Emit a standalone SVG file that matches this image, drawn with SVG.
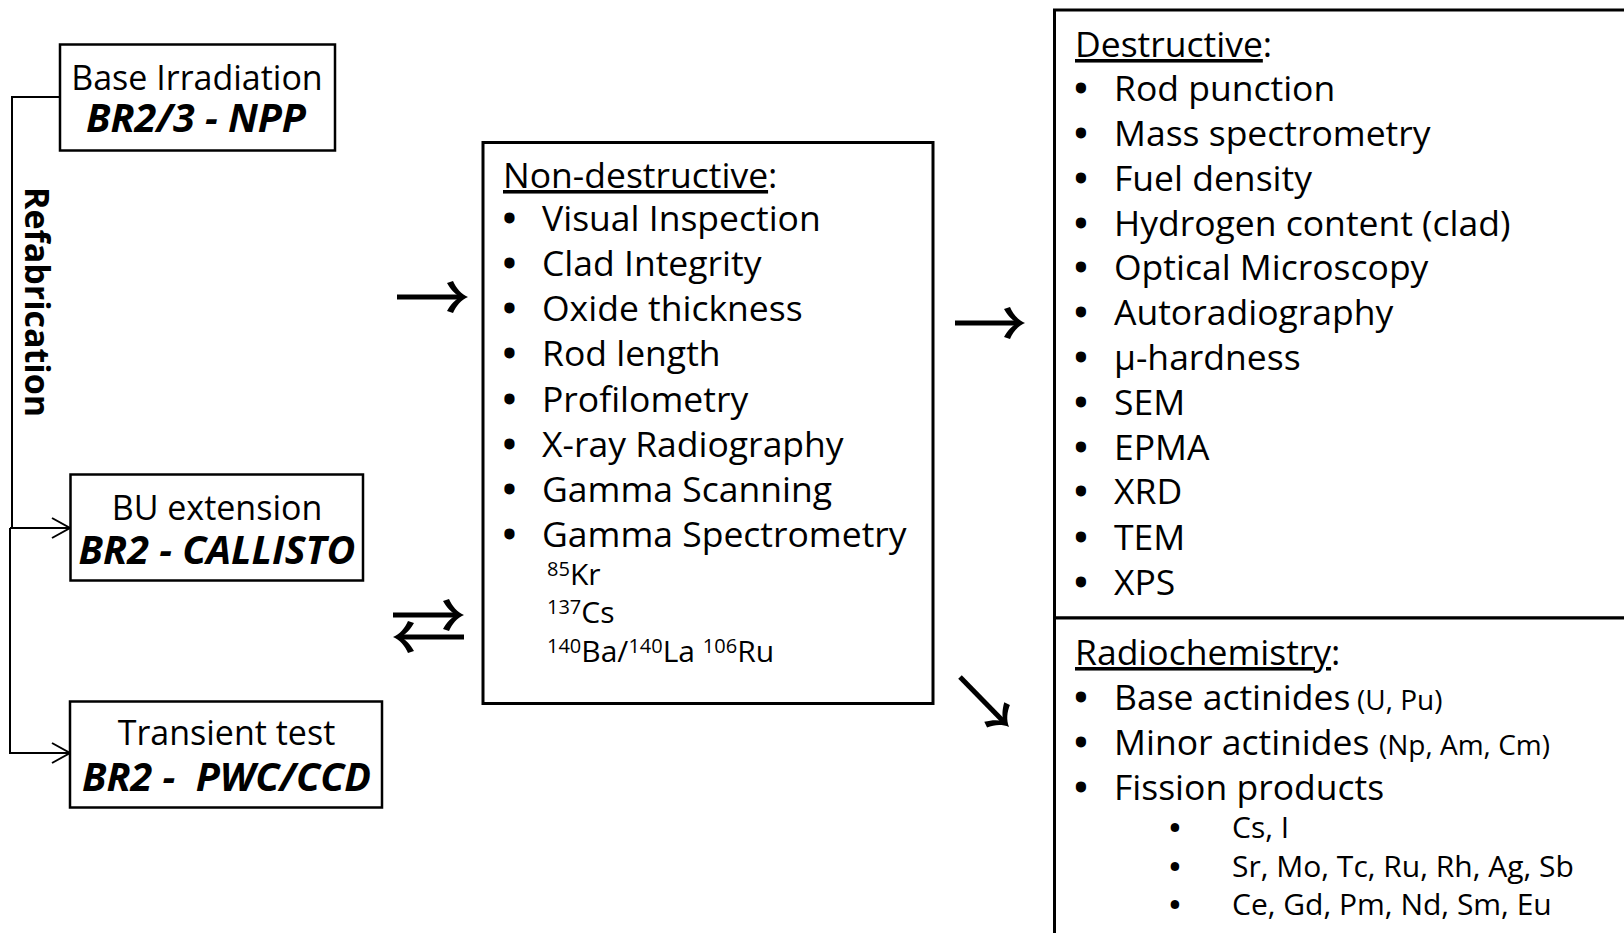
<svg xmlns="http://www.w3.org/2000/svg" xmlns:xlink="http://www.w3.org/1999/xlink" width="1624" height="933" viewBox="0 0 1624 933">
<style>
text{font-family:"Open Sans","Noto Sans","DejaVu Sans",sans-serif;fill:#000}
.box{fill:#fff;stroke:#000;stroke-width:2.5}
.bigbox{fill:#fff;stroke:#000;stroke-width:3}
.t34{font-size:34px}
.bi{font-size:39.5px;font-weight:bold;font-style:italic}
.m{font-size:35.5px}
.b{text-anchor:middle;stroke:#000;stroke-width:2.8;stroke-linejoin:round}
.bs{text-anchor:middle;stroke:#000;stroke-width:2.2;stroke-linejoin:round}
.sm{font-size:30px}
.sup{font-size:20px}
.sub{font-size:30px}
.par{font-size:28px}
.u{text-decoration:underline}
.thin{fill:none;stroke:#000;stroke-width:2}
.shaft{fill:none;stroke:#000;stroke-width:5}
.mid{text-anchor:middle}
</style>
<defs>
<path id="ah" d="M0,0 C-7,-3 -12,-9 -15,-16 L-21,-14 C-17,-7 -13,-3 -8,0 C-13,3 -17,7 -21,14 L-15,16 C-12,9 -7,3 0,0 Z" fill="#000"/>
<path id="oh" d="M-18,-10 L0,0 L-18,10" fill="none" stroke="#000" stroke-width="2"/>
</defs>

<g id="connectors">
<path class="thin" d="M60,97 H12 V528"/>
<path class="thin" d="M10,528 H69"/>
<path class="thin" d="M10,528 V753 H69"/>
<use xlink:href="#oh" transform="translate(70,528)"/>
<use xlink:href="#oh" transform="translate(70,753)"/>
<text class="mid" transform="translate(25,302) rotate(90)" style="font-size:34px;font-weight:bold">Refabrication</text>

<line class="shaft" x1="397" y1="297" x2="461" y2="297"/>
<use xlink:href="#ah" transform="translate(468,297)"/>

<line class="shaft" x1="393" y1="615" x2="457" y2="615"/>
<use xlink:href="#ah" transform="translate(464,615)"/>
<line class="shaft" x1="400" y1="637" x2="464" y2="637"/>
<use xlink:href="#ah" transform="translate(393,637) rotate(180)"/>

<line class="shaft" x1="955" y1="323" x2="1018" y2="323"/>
<use xlink:href="#ah" transform="translate(1025,323)"/>

<line class="shaft" x1="960" y1="677" x2="1004" y2="722"/>
<use xlink:href="#ah" transform="translate(1009,727) rotate(45.5)"/>
</g>

<g id="base-irradiation">
<rect class="box" x="60" y="44.5" width="275" height="106"/>
<text class="mid"><tspan class="t34" x="197" y="90">Base Irradiation</tspan><tspan class="bi" x="196" y="132">BR2/3 - NPP</tspan></text>
</g>

<g id="bu-extension">
<rect class="box" x="70.5" y="474.5" width="292.5" height="106"/>
<text class="mid"><tspan class="t34" x="217" y="520">BU extension</tspan><tspan class="bi" x="217" y="564">BR2 - CALLISTO</tspan></text>
</g>

<g id="transient-test">
<rect class="box" x="70" y="701.5" width="312" height="106"/>
<text class="mid" xml:space="preserve"><tspan class="t34" x="226.5" y="745">Transient test</tspan><tspan class="bi" x="226.5" y="791">BR2 -  PWC/CCD</tspan></text>
</g>

<g id="non-destructive">
<rect class="bigbox" x="483" y="142.5" width="450" height="561"/>
<text class="m" x="503" y="188"><tspan class="u">Non-destructive</tspan>:</text>
<text class="m" y="231"><tspan class="b" x="509.5">•</tspan><tspan x="542">Visual Inspection</tspan></text>
<text class="m" y="276"><tspan class="b" x="509.5">•</tspan><tspan x="542">Clad Integrity</tspan></text>
<text class="m" y="321"><tspan class="b" x="509.5">•</tspan><tspan x="542">Oxide thickness</tspan></text>
<text class="m" y="366"><tspan class="b" x="509.5">•</tspan><tspan x="542">Rod length</tspan></text>
<text class="m" y="412"><tspan class="b" x="509.5">•</tspan><tspan x="542">Profilometry</tspan></text>
<text class="m" y="457"><tspan class="b" x="509.5">•</tspan><tspan x="542">X-ray Radiography</tspan></text>
<text class="m" y="502"><tspan class="b" x="509.5">•</tspan><tspan x="542">Gamma Scanning</tspan></text>
<text class="m" y="547"><tspan class="b" x="509.5">•</tspan><tspan x="542">Gamma Spectrometry</tspan></text>
<text class="sm"><tspan class="sup" x="547" y="576">85</tspan><tspan y="585">Kr</tspan><tspan class="sup" x="547" y="614">137</tspan><tspan y="623">Cs</tspan><tspan class="sup" x="547" y="653">140</tspan><tspan y="662">Ba/</tspan><tspan class="sup" y="653">140</tspan><tspan y="662">La </tspan><tspan class="sup" y="653">106</tspan><tspan y="662">Ru</tspan></text>
</g>

<g id="destructive">
<rect class="bigbox" x="1054.5" y="10" width="620" height="608"/>
<text class="m" x="1075" y="57"><tspan class="u">Destructive</tspan>:</text>
<text class="m" y="101"><tspan class="b" x="1081">•</tspan><tspan x="1114">Rod punction</tspan></text>
<text class="m" y="146"><tspan class="b" x="1081">•</tspan><tspan x="1114">Mass spectrometry</tspan></text>
<text class="m" y="191"><tspan class="b" x="1081">•</tspan><tspan x="1114">Fuel density</tspan></text>
<text class="m" y="236"><tspan class="b" x="1081">•</tspan><tspan x="1114">Hydrogen content (clad)</tspan></text>
<text class="m" y="280"><tspan class="b" x="1081">•</tspan><tspan x="1114">Optical Microscopy</tspan></text>
<text class="m" y="325"><tspan class="b" x="1081">•</tspan><tspan x="1114">Autoradiography</tspan></text>
<text class="m" y="370"><tspan class="b" x="1081">•</tspan><tspan x="1114">μ-hardness</tspan></text>
<text class="m" y="415"><tspan class="b" x="1081">•</tspan><tspan x="1114">SEM</tspan></text>
<text class="m" y="460"><tspan class="b" x="1081">•</tspan><tspan x="1114">EPMA</tspan></text>
<text class="m" y="504"><tspan class="b" x="1081">•</tspan><tspan x="1114">XRD</tspan></text>
<text class="m" y="550"><tspan class="b" x="1081">•</tspan><tspan x="1114">TEM</tspan></text>
<text class="m" y="595"><tspan class="b" x="1081">•</tspan><tspan x="1114">XPS</tspan></text>
</g>

<g id="radiochemistry">
<rect class="bigbox" x="1054.5" y="618" width="620" height="400"/>
<text class="m" x="1075" y="665"><tspan class="u">Radiochemistry</tspan>:</text>
<text class="m" y="710"><tspan class="b" x="1081">•</tspan><tspan x="1114">Base actinides </tspan><tspan class="par" x="1357">(U, Pu)</tspan></text>
<text class="m" y="755"><tspan class="b" x="1081">•</tspan><tspan x="1114">Minor actinides </tspan><tspan class="par" x="1379">(Np, Am, Cm)</tspan></text>
<text class="m" y="800"><tspan class="b" x="1081">•</tspan><tspan x="1114">Fission products</tspan></text>
<text class="sub"><tspan class="bs" x="1175" y="838">•</tspan><tspan x="1232" y="838">Cs, I</tspan><tspan class="bs" x="1175" y="877">•</tspan><tspan x="1232" y="877">Sr, Mo, Tc, Ru, Rh, Ag, Sb</tspan><tspan class="bs" x="1175" y="915">•</tspan><tspan x="1232" y="915">Ce, Gd, Pm, Nd, Sm, Eu</tspan></text>
</g>
</svg>
